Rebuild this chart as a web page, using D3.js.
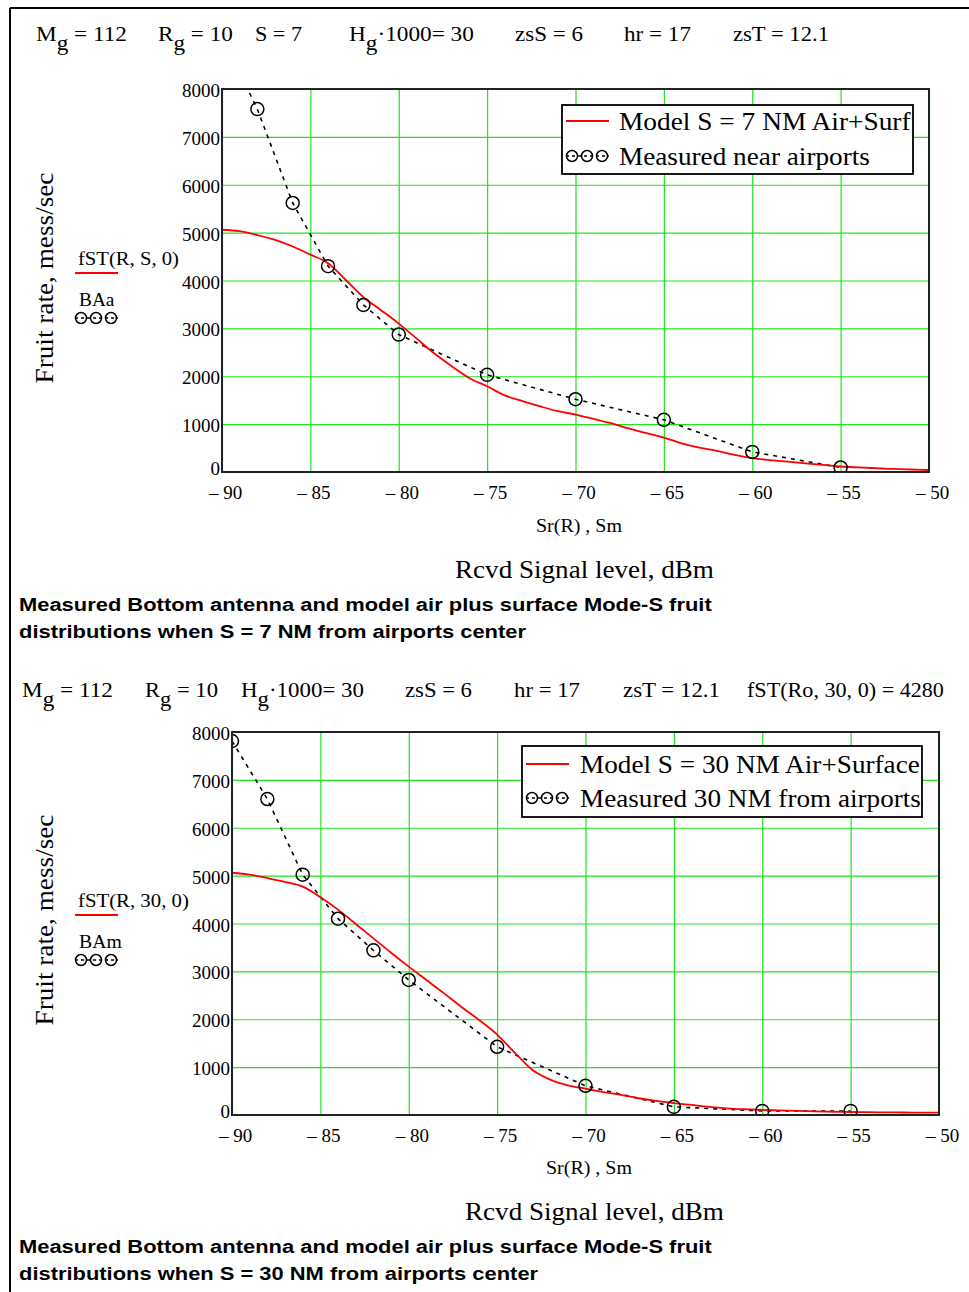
<!DOCTYPE html>
<html><head><meta charset="utf-8">
<script src="https://cdn.jsdelivr.net/npm/d3@7"></script>
<style>body{margin:0;background:#fff} svg{display:block}</style>
</head><body>
<svg id="c" width="969" height="1292"></svg>
<script>
// ---------------- data ----------------
const xTicks = [-90, -85, -80, -75, -70, -65, -60, -55, -50];
const yTicks = [0, 1000, 2000, 3000, 4000, 5000, 6000, 7000, 8000];

const modelX = [-90,-89,-88,-87,-86,-85,-84,-83,-82,-81,-80,-79,-78,-77,-76,-75,-74,-73,-72,-71,
                -70,-69,-68,-67,-66,-65,-64,-63,-62,-61,-60,-59,-58,-57,-56,-55,-54,-53,-52,-51,-50];
const model7 = [5060,5030,4950,4850,4710,4540,4360,4010,3650,3380,3100,2790,2480,2210,1960,1790,1600,1480,1370,1270,
                1200,1110,1020,910,810,720,600,510,440,360,290,250,215,180,150,115,95,78,64,52,42];
const model30 = [5060,5020,4950,4870,4770,4550,4290,3990,3690,3390,3100,2820,2540,2250,1980,1680,1300,940,740,620,
                 550,480,420,350,295,250,210,170,140,120,105,95,85,75,68,63,58,55,52,50,48];

const measX = [-90, -88, -86, -84, -82, -80, -75, -70, -65, -60, -55];
const meas7 = [9100, 7580, 5620, 4300, 3490, 2870, 2030, 1520, 1090, 420, 95];
const meas30 = [7810, 6600, 5020, 4100, 3440, 2820, 1425, 610, 170, 85, 85];

const legendModel7 = "Model S = 7 NM Air+Surf";
const legendMeas7 = "Measured near airports";
const legendModel30 = "Model S = 30 NM Air+Surface";
const legendMeas30 = "Measured 30 NM from airports";

// ---------------- drawing ----------------
const svg = d3.select("#c");
const SERIF = "'Liberation Serif','Times New Roman',serif";
const SANS = "'Liberation Sans',Arial,sans-serif";

// frame lines
svg.append("line").attr("x1", 10).attr("x2", 969).attr("y1", 8).attr("y2", 8).attr("stroke", "#000").attr("stroke-width", 2);
svg.append("line").attr("x1", 10).attr("x2", 10).attr("y1", 8).attr("y2", 1292).attr("stroke", "#000").attr("stroke-width", 2);

// text helper: parts = strings or {s:"sub"}; fitted to target width
function label(parent, parts, x, y, fs, opt = {}) {
  const t = parent.append("text")
    .attr("font-family", opt.family || SERIF)
    .attr("font-size", fs)
    .attr("font-weight", opt.weight || "normal")
    .attr("fill", "#000")
    .attr("text-anchor", opt.anchor || "start");
  let shifted = false;
  parts.forEach(p => {
    if (typeof p === "string") {
      const ts = t.append("tspan").text(p);
      if (shifted) { ts.attr("dy", "-0.4em"); shifted = false; }
    } else {
      t.append("tspan").text(p.s).attr("dy", "0.4em");
      shifted = true;
    }
  });
  let s = 1;
  if (opt.w) {
    const w = t.node().getBBox().width;
    if (w > 0) s = opt.w / w;
  }
  const rot = opt.rotate ? ` rotate(${opt.rotate})` : "";
  t.attr("transform", `translate(${x},${y})${rot} scale(${s},1)`);
  return t;
}

function headerRow(items, baseline, fs) {
  items.forEach(it => label(svg, it.parts, it.x0, baseline, fs, { w: it.x1 - it.x0 }));
}

headerRow([
  { parts: ["M", { s: "g" }, " = 112"], x0: 36, x1: 127 },
  { parts: ["R", { s: "g" }, " = 10"], x0: 158, x1: 233 },
  { parts: ["S = 7"], x0: 255, x1: 302 },
  { parts: ["H", { s: "g" }, "·1000= 30"], x0: 349, x1: 474 },
  { parts: ["zsS = 6"], x0: 515, x1: 583 },
  { parts: ["hr = 17"], x0: 624, x1: 691 },
  { parts: ["zsT = 12.1"], x0: 733, x1: 829 }
], 41, 22);

headerRow([
  { parts: ["M", { s: "g" }, " = 112"], x0: 22, x1: 113 },
  { parts: ["R", { s: "g" }, " = 10"], x0: 145, x1: 218 },
  { parts: ["H", { s: "g" }, "·1000= 30"], x0: 241, x1: 364 },
  { parts: ["zsS = 6"], x0: 405, x1: 472 },
  { parts: ["hr = 17"], x0: 514, x1: 580 },
  { parts: ["zsT = 12.1"], x0: 623, x1: 720 },
  { parts: ["fST(Ro, 30, 0) = 4280"], x0: 747, x1: 944 }
], 697, 22);

function legendSymbolCircles(g, x0, y) {
  g.append("line").attr("x1", x0).attr("x2", x0 + 43).attr("y1", y).attr("y2", y)
    .attr("stroke", "#000").attr("stroke-width", 1.3).attr("stroke-dasharray", "3,3");
  [6, 21, 36].forEach(dx => {
    g.append("circle").attr("cx", x0 + dx).attr("cy", y).attr("r", 5.5)
      .attr("fill", "none").attr("stroke", "#000").attr("stroke-width", 1.5);
  });
}

function panel(cfg) {
  const { L, R, T, B } = cfg;
  const g = svg.append("g");
  const x = d3.scaleLinear().domain([-90, -50]).range([L, R]);
  const y = d3.scaleLinear().domain([0, 8000]).range([B, T]);
  const clipId = "clip" + cfg.id;
  svg.append("clipPath").attr("id", clipId).append("rect")
    .attr("x", L).attr("y", T).attr("width", R - L).attr("height", B - T);

  // grid
  const gx = g.append("g").attr("transform", `translate(0,${B})`)
    .call(d3.axisBottom(x).tickValues(xTicks).tickSize(-(B - T)).tickFormat(""));
  gx.select(".domain").remove();
  gx.selectAll("line").attr("stroke", "#1ee61e").attr("stroke-width", 1.2);
  const gy = g.append("g").attr("transform", `translate(${L},0)`)
    .call(d3.axisLeft(y).tickValues(yTicks).tickSize(-(R - L)).tickFormat(""));
  gy.select(".domain").remove();
  gy.selectAll("line").attr("stroke", "#1ee61e").attr("stroke-width", 1.2);

  // tick labels
  const ly = g.append("g").attr("transform", `translate(${L},0)`)
    .call(d3.axisLeft(y).tickValues(yTicks).tickSize(0).tickPadding(2).tickFormat(d3.format("d")));
  ly.select(".domain").remove();
  ly.selectAll("text").attr("font-family", SERIF).attr("font-size", 19).attr("fill", "#000")
    .attr("dy", d => d === 0 ? "0.15em" : "0.4em");
  const lx = g.append("g").attr("transform", `translate(0,${B})`)
    .call(d3.axisBottom(x).tickValues(xTicks).tickSize(0).tickFormat(d => "\u2013 " + Math.abs(d)));
  lx.select(".domain").remove();
  lx.selectAll("text").attr("font-family", SERIF).attr("font-size", 19).attr("fill", "#000")
    .attr("y", 27).attr("dy", 0).attr("x", 3);

  // data
  const data = g.append("g").attr("clip-path", `url(#${clipId})`);
  const mPts = cfg.meas.map((v, i) => [measX[i], v]);
  data.append("path").datum(mPts)
    .attr("d", d3.line().x(d => x(d[0])).y(d => y(d[1])))
    .attr("fill", "none").attr("stroke", "#000").attr("stroke-width", 1.6).attr("stroke-dasharray", "4,5");
  const modPts = cfg.model.map((v, i) => [modelX[i], v]);
  data.append("path").datum(modPts)
    .attr("d", d3.line().x(d => x(d[0])).y(d => y(d[1])).curve(d3.curveMonotoneX))
    .attr("fill", "none").attr("stroke", "#ff0000").attr("stroke-width", 1.8);
  data.selectAll("circle.m").data(mPts).join("circle").attr("class", "m")
    .attr("cx", d => x(d[0])).attr("cy", d => y(d[1])).attr("r", 6.5)
    .attr("fill", "none").attr("stroke", "#000").attr("stroke-width", 1.5);

  // frame
  g.append("rect").attr("x", L).attr("y", T).attr("width", R - L).attr("height", B - T)
    .attr("fill", "none").attr("stroke", "#222").attr("stroke-width", 2);

  // legend box
  const lg = cfg.leg;
  g.append("rect").attr("x", lg.x0).attr("y", lg.y0).attr("width", lg.x1 - lg.x0).attr("height", lg.y1 - lg.y0)
    .attr("fill", "#fff").attr("stroke", "#000").attr("stroke-width", 1.8);
  g.append("line").attr("x1", lg.x0 + 4).attr("x2", lg.x0 + 47).attr("y1", lg.r1).attr("y2", lg.r1)
    .attr("stroke", "#ff0000").attr("stroke-width", 1.8);
  label(g, [cfg.legText1], lg.tx, lg.r1 + 9, 26, { w: lg.w1 });
  legendSymbolCircles(g, lg.x0 + 4, lg.r2);
  label(g, [cfg.legText2], lg.tx, lg.r2 + 9, 26, { w: lg.w2 });

  // left legend (Mathcad trace labels)
  label(g, [cfg.fname], 78, cfg.fy, 19, { w: cfg.fw });
  g.append("line").attr("x1", 75).attr("x2", 118).attr("y1", cfg.fy + 8).attr("y2", cfg.fy + 8)
    .attr("stroke", "#ff0000").attr("stroke-width", 1.8);
  label(g, [cfg.bname], 79, cfg.fy + 41, 19, { w: cfg.bw });
  legendSymbolCircles(g, 75, cfg.fy + 53);

  // y axis label
  label(g, ["Fruit rate, mess/sec"], 53, cfg.ylabY, 26, { anchor: "middle", rotate: -90, w: 211 });

  // x axis labels
  label(g, ["Sr(R) , Sm"], cfg.srX, cfg.srY, 18, { w: 86 });
  label(g, ["Rcvd Signal level, dBm"], cfg.rcX, cfg.rcY, 26, { w: 259 });

  // caption
  label(g, ["Measured Bottom antenna and model air plus surface Mode-S fruit"], 19, cfg.capY, 19,
    { family: SANS, weight: "bold", w: 694 });
  label(g, [cfg.cap2], 19, cfg.capY + 27, 19, { family: SANS, weight: "bold", w: cfg.cap2w });
}

panel({
  id: 1, L: 222, R: 929, T: 89, B: 472,
  model: model7, meas: meas7,
  leg: { x0: 562, x1: 913, y0: 105, y1: 174, r1: 121, r2: 156, tx: 619, w1: 292, w2: 251 },
  legText1: legendModel7, legText2: legendMeas7,
  fname: "fST(R, S, 0)", fw: 101, fy: 265, bname: "BAa", bw: 36,
  ylabY: 278, srX: 536, srY: 532, rcX: 455, rcY: 578,
  capY: 611, cap2: "distributions when S = 7 NM from airports center", cap2w: 508
});

panel({
  id: 2, L: 232, R: 939, T: 732, B: 1115,
  model: model30, meas: meas30,
  leg: { x0: 522, x1: 922, y0: 746, y1: 817, r1: 764, r2: 798, tx: 580, w1: 340, w2: 341 },
  legText1: legendModel30, legText2: legendMeas30,
  fname: "fST(R, 30, 0)", fw: 111, fy: 907, bname: "BAm", bw: 43,
  ylabY: 920, srX: 546, srY: 1174, rcX: 465, rcY: 1220,
  capY: 1253, cap2: "distributions when S = 30 NM from airports center", cap2w: 520
});
</script>
</body></html>
